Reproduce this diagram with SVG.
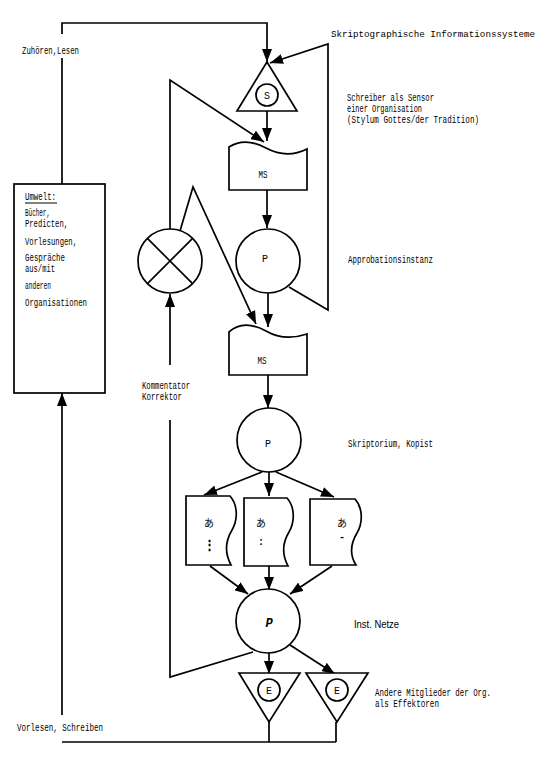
<svg xmlns="http://www.w3.org/2000/svg" width="550" height="767" viewBox="0 0 550 767">
<defs>
<marker id="ah" markerUnits="userSpaceOnUse" markerWidth="13" markerHeight="10" refX="13" refY="5" orient="auto">
<path d="M0,0 L13,5 L0,10 Z" fill="#000"/>
</marker>
<style>
.ln{fill:none;stroke:#000;stroke-width:1.7}
.arr{fill:none;stroke:#000;stroke-width:1.7;marker-end:url(#ah)}
.shp{fill:#fff;stroke:#000;stroke-width:1.7}
.t{font-family:"Liberation Mono","DejaVu Sans Mono",monospace;font-size:10px;fill:#000}
.ts{font-family:"Liberation Sans",Arial,sans-serif;font-size:10px;fill:#000}
.c{text-anchor:middle}
.j{font-family:"Noto Sans CJK JP","Noto Sans CJK SC",sans-serif;font-size:10px;fill:#000;text-anchor:middle}
</style>
</defs>
<rect width="550" height="767" fill="#fff"/>

<g id="connectors">
<path class="ln" d="M62,184 V58"/>
<path class="arr" d="M62,34 V23 H267 V62"/>
<path class="arr" d="M289,287 L328,310 V44 L270,63"/>
<path class="arr" d="M267,111 V141"/>
<path class="arr" d="M170,229 V80 L264,142"/>
<path class="arr" d="M267,190 V228"/>
<path class="arr" d="M180,231 L193,187 L256,324"/>
<path class="arr" d="M268,293 V327"/>
<path class="arr" d="M268,375 V408"/>
<path class="arr" d="M170,365 V294"/>
<path class="arr" d="M262,472 L204,495"/>
<path class="arr" d="M269,472 V496"/>
<path class="arr" d="M276,472 L334,497"/>
<path class="arr" d="M210,566 L248,594"/>
<path class="arr" d="M269,566 V590"/>
<path class="arr" d="M332,566 L290,594"/>
<path class="ln" d="M170,420 V677 L253,652"/>
<path class="arr" d="M269,653 V674"/>
<path class="arr" d="M290,645 L335,674"/>
<path class="ln" d="M269,722 V742 M336,722 V742 M62,742 H336"/>
<path class="arr" d="M62,715 V393"/>
</g>

<g id="umwelt">
<rect class="shp" x="14" y="184" width="91" height="209"/>
<text class="t" x="25" y="199.5" textLength="31" lengthAdjust="spacingAndGlyphs">Umwelt:</text>
<line x1="25" y1="203" x2="57" y2="203" stroke="#000" stroke-width="1"/>
<text class="t" x="25" y="215.5" textLength="25" lengthAdjust="spacingAndGlyphs">Bücher,</text>
<text class="t" x="25" y="226.5" textLength="43" lengthAdjust="spacingAndGlyphs">Predicten,</text>
<text class="t" x="25" y="244.5" textLength="52" lengthAdjust="spacingAndGlyphs">Vorlesungen,</text>
<text class="t" x="25" y="260.5" textLength="40" lengthAdjust="spacingAndGlyphs">Gespräche</text>
<text class="t" x="25" y="271.5" textLength="30" lengthAdjust="spacingAndGlyphs">aus/mit</text>
<text class="t" x="25" y="288.5" textLength="26" lengthAdjust="spacingAndGlyphs">anderen</text>
<text class="t" x="25" y="305.5" textLength="62" lengthAdjust="spacingAndGlyphs">Organisationen</text>
</g>

<g id="sensor">
<path class="shp" d="M267,62 L297,111 L237,111 Z"/>
<circle class="shp" cx="267" cy="95" r="11"/>
<text class="t c" x="267" y="98.5">S</text>
</g>

<g id="ms1">
<path class="shp" d="M229,147 C240,140 253,141 266,148 C279,155 293,156 307,149 V190 H229 Z"/>
<text class="t c" x="263" y="177.5" textLength="9" lengthAdjust="spacingAndGlyphs">MS</text>
</g>

<g id="p1">
<circle class="shp" cx="268" cy="261" r="32"/>
<text class="t c" x="265" y="261.5">P</text>
</g>

<g id="xcircle">
<circle class="shp" cx="170" cy="261" r="32"/>
<path class="ln" d="M147.4,238.4 L192.6,283.6 M192.6,238.4 L147.4,283.6"/>
</g>

<g id="ms2">
<path class="shp" d="M229,332 C240,322 253,324 266,331 C278,338 292,339 307,334 V375 H229 Z"/>
<text class="t c" x="262" y="363.5" textLength="9" lengthAdjust="spacingAndGlyphs">MS</text>
</g>

<g id="p2">
<circle class="shp" cx="269" cy="440" r="32"/>
<text class="t c" x="268" y="446.5">P</text>
</g>

<g id="doc1">
<path class="shp" d="M186,496 H230 C238,505 238,520 232,530 C226,540 224,552 231,565 H186 Z"/>
<text class="j" x="209" y="527">あ</text>
<text class="t c" x="209" y="549" style="font-size:13px;font-weight:bold">⋮</text>
</g>
<g id="doc2">
<path class="shp" d="M244,498 H287 C295,507 295,522 289,532 C283,542 281,553 288,566 H244 Z"/>
<text class="j" x="261" y="527">あ</text>
<text class="t c" x="261" y="545" style="font-weight:bold">:</text>
</g>
<g id="doc3">
<path class="shp" d="M310,499 H355 C363,508 363,523 357,533 C351,543 349,554 356,565 H310 Z"/>
<text class="j" x="342" y="527">あ</text>
<text class="t c" x="342" y="540" style="font-weight:bold">-</text>
</g>

<g id="p3">
<circle class="shp" cx="268" cy="621" r="32"/>
<text class="t c" x="269" y="627" style="font-size:12px;font-style:italic;font-weight:bold">P</text>
</g>

<g id="e1">
<path class="shp" d="M239,673 H300 L269,722 Z"/>
<circle class="shp" cx="269" cy="690" r="11"/>
<text class="t c" x="269" y="693.5">E</text>
</g>
<g id="e2">
<path class="shp" d="M306,673 H368 L337,722 Z"/>
<circle class="shp" cx="337" cy="690" r="11"/>
<text class="t c" x="337" y="693.5">E</text>
</g>

<g id="labels">
<text class="t" x="331" y="37" style="font-size:9.2px">Skriptographische Informationssysteme</text>
<text class="t" x="22" y="53.5" textLength="57" lengthAdjust="spacingAndGlyphs">Zuhören,Lesen</text>
<text class="t" x="347" y="100.5" textLength="87" lengthAdjust="spacingAndGlyphs">Schreiber als Sensor</text>
<text class="t" x="347" y="111.5" textLength="75" lengthAdjust="spacingAndGlyphs">einer Organisation</text>
<text class="t" x="347" y="122.5" textLength="132" lengthAdjust="spacingAndGlyphs">(Stylum Gottes/der Tradition)</text>
<text class="t" x="348" y="262.5" textLength="85" lengthAdjust="spacingAndGlyphs">Approbationsinstanz</text>
<text class="t" x="142" y="388.5" textLength="48" lengthAdjust="spacingAndGlyphs">Kommentator</text>
<text class="t" x="142" y="399.5" textLength="40" lengthAdjust="spacingAndGlyphs">Korrektor</text>
<text class="t" x="348" y="446.5" textLength="85" lengthAdjust="spacingAndGlyphs">Skriptorium, Kopist</text>
<text class="ts" x="354" y="627.5" textLength="45" lengthAdjust="spacingAndGlyphs">Inst. Netze</text>
<text class="t" x="375" y="695.5" textLength="116" lengthAdjust="spacingAndGlyphs">Andere Mitglieder der Org.</text>
<text class="t" x="375" y="706.5" textLength="64" lengthAdjust="spacingAndGlyphs">als Effektoren</text>
<text class="t" x="17" y="730.5" textLength="86" lengthAdjust="spacingAndGlyphs">Vorlesen, Schreiben</text>
</g>
</svg>
